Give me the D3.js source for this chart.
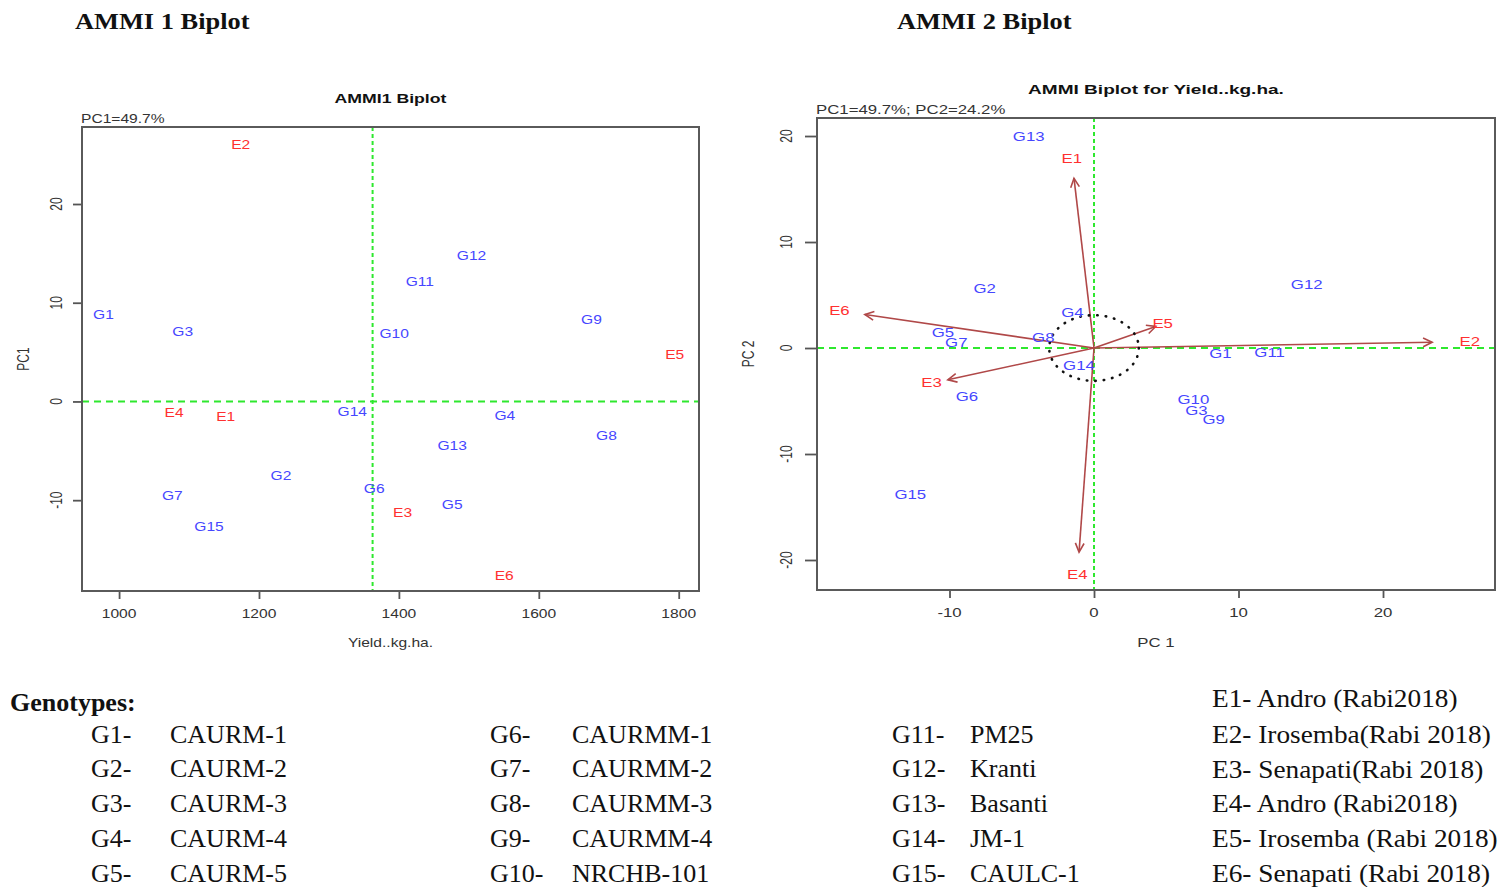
<!DOCTYPE html>
<html>
<head>
<meta charset="utf-8">
<script src="https://cdn.jsdelivr.net/npm/d3@7"></script>
<style>
body { margin: 0; background: #fff; }
svg { display: block; }
text { font-family: "Liberation Sans", Arial, sans-serif; }
.serif { font-family: "Liberation Serif", "Times New Roman", serif; }
</style>
</head>
<body>
<script>
// genotype scores
var genotypes = ["G1","G2","G3","G4","G5","G6","G7","G8","G9","G10","G11","G12","G13","G14","G15"];
var genoYield = [977.6, 1231.4, 1091.0, 1551.4, 1476.2, 1364.8, 1076.2, 1696.7, 1675.2, 1393.3, 1430.0, 1503.8, 1476.2, 1333.3, 1128.6];
var genoPC1 = [8.75, -7.57, 7.08, -1.49, -10.45, -8.80, -9.53, -3.51, 8.28, 6.88, 12.15, 14.72, -4.52, -1.04, -12.71];
var genoPC2 = [-0.57, 5.57, -5.94, 3.33, 1.45, -4.65, 0.50, 0.97, -6.79, -4.90, -0.44, 5.94, 19.88, -1.70, -13.87];

// environment scores
var environments = ["E1","E2","E3","E4","E5","E6"];
var envYield = [1152.4, 1173.8, 1405.2, 1078.6, 1794.3, 1550.5];
var envPC1 = [-1.54, 26.0, -11.24, -1.15, 4.75, -17.62];
var envPC2 = [17.8, 0.6, -3.33, -21.4, 2.26, 3.52];

var grandMean = 1362.4;
var circleRadius = 3.1;
var pcLabels = ["PC1=49.7%", "PC1=49.7%; PC2=24.2%"];

var yieldTicks = [1000, 1200, 1400, 1600, 1800];
var pc1Ticks = [-10, 0, 10, 20];
var pc2Ticks = [-20, -10, 0, 10, 20];

var genotypeNames = ["CAURM-1","CAURM-2","CAURM-3","CAURM-4","CAURM-5",
  "CAURMM-1","CAURMM-2","CAURMM-3","CAURMM-4","NRCHB-101",
  "PM25","Kranti","Basanti","JM-1","CAULC-1"];
var envNames = ["Andro (Rabi2018)","Irosemba(Rabi 2018)","Senapati(Rabi 2018)",
  "Andro (Rabi2018)","Irosemba (Rabi 2018)","Senapati (Rabi 2018)"];

var BLUE = "#4646ff", RED = "#ff3030", GREEN = "#2ee82e", ARROW = "#b04848";

var svg = d3.select("body").append("svg")
    .attr("width", 1505)
    .attr("height", 887);

// stretched text (the figure was scaled wider than tall)
function txt(g, x, y, s, o) {
  o = o || {};
  return g.append("text")
      .attr("transform", "translate(" + x + "," + y + ") scale(" + (o.sx || 1) + ",1)" + (o.rot ? " rotate(" + o.rot + ")" : ""))
      .attr("text-anchor", o.anchor || "middle")
      .attr("dominant-baseline", "central")
      .attr("class", o.cls || null)
      .style("font-size", (o.size || 12) + "px")
      .style("font-weight", o.bold ? "bold" : null)
      .attr("fill", o.fill || "#2a2a2a")
      .text(s);
}

function panel(cfg) {
  var g = svg.append("g");
  var x = d3.scaleLinear().domain(cfg.xLim).range([cfg.left, cfg.right]);
  var y = d3.scaleLinear().domain(cfg.yLim).range([cfg.bottom, cfg.top]);

  var xa = g.append("g")
      .attr("transform", "translate(0," + cfg.bottom + ")")
      .call(d3.axisBottom(x).tickValues(cfg.xTicks).tickSize(8));
  var ya = g.append("g")
      .attr("transform", "translate(" + cfg.left + ",0)")
      .call(d3.axisLeft(y).tickValues(cfg.yTicks).tickSize(cfg.yTick));

  // keep the tick marks, redraw the labels stretched
  [xa, ya].forEach(function(a) {
    a.select(".domain").remove();
    a.selectAll("text").remove();
    a.selectAll("line").attr("stroke", "#555").attr("stroke-width", 1.8);
  });
  cfg.xTicks.forEach(function(d) {
    txt(g, x(d), cfg.bottom + 22.5, String(d), {sx: cfg.sx, fill: "#333"});
  });
  cfg.yTicks.forEach(function(d) {
    txt(g, cfg.left - cfg.yLab, y(d), String(d), {sx: cfg.sx, rot: -90, fill: "#333"});
  });

  // reference lines
  g.append("line")
      .attr("x1", cfg.left).attr("x2", cfg.right)
      .attr("y1", y(0)).attr("y2", y(0))
      .attr("stroke", GREEN).attr("stroke-width", 2)
      .attr("stroke-dasharray", "7,5");
  g.append("line")
      .attr("x1", x(cfg.vLine)).attr("x2", x(cfg.vLine))
      .attr("y1", cfg.top).attr("y2", cfg.bottom)
      .attr("stroke", GREEN).attr("stroke-width", 2)
      .attr("stroke-dasharray", "4,3");

  g.append("rect")
      .attr("x", cfg.left).attr("y", cfg.top)
      .attr("width", cfg.right - cfg.left).attr("height", cfg.bottom - cfg.top)
      .attr("fill", "none").attr("stroke", "#5a5a5a").attr("stroke-width", 2);

  txt(g, (cfg.left + cfg.right) / 2, cfg.titleY, cfg.title, {sx: cfg.sx, size: 13.6, bold: true, fill: "#111"});
  txt(g, cfg.left - 1, cfg.subY, cfg.sub, {sx: cfg.sx, anchor: "start", fill: "#333"});
  txt(g, (cfg.left + cfg.right) / 2, 643, cfg.xTitle, {sx: cfg.sx, fill: "#333"});
  txt(g, cfg.yTitleX, (cfg.top + cfg.bottom) / 2, cfg.yTitle, {sx: cfg.sx, rot: -90, fill: "#333"});

  return {g: g, x: x, y: y};
}

// ---------- AMMI1 ----------
var p1 = panel({
  left: 82, right: 699, top: 127, bottom: 591,
  xLim: [947, 1829], yLim: [-19.2, 27.8],
  xTicks: yieldTicks, yTicks: pc1Ticks, yTick: 9, yLab: 26, sx: 1.3,
  vLine: grandMean, title: "AMMI1 Biplot", titleY: 98, sub: pcLabels[0], subY: 119,
  xTitle: "Yield..kg.ha.", yTitle: "PC1", yTitleX: 23
});

genotypes.forEach(function(d, i) {
  txt(p1.g, p1.x(genoYield[i]), p1.y(genoPC1[i]), d, {sx: 1.3, fill: BLUE});
});
environments.forEach(function(d, i) {
  txt(p1.g, p1.x(envYield[i]), p1.y(envPC1[i]), d, {sx: 1.3, fill: RED});
});

// ---------- AMMI2 ----------
var p2 = panel({
  left: 817, right: 1495, top: 118, bottom: 590,
  xLim: [-19.17, 27.75], yLim: [-22.83, 21.7],
  xTicks: pc1Ticks, yTicks: pc2Ticks, yTick: 12, yLab: 31, sx: 1.4,
  vLine: 0, title: "AMMI Biplot for Yield..kg.ha.", titleY: 89, sub: pcLabels[1], subY: 110,
  xTitle: "PC 1", yTitle: "PC 2", yTitleX: 748
});

// environment vectors drawn to 0.9 of the score, label at the score
var ox = p2.x(0), oy = p2.y(0);
environments.forEach(function(d, i) {
  var tx = p2.x(0.9 * envPC1[i]), ty = p2.y(0.9 * envPC2[i]);
  var ang = Math.atan2(ty - oy, tx - ox), L = 10, a = 0.45;
  var head = "M" + (tx - L * Math.cos(ang - a)) + "," + (ty - L * Math.sin(ang - a)) +
             "L" + tx + "," + ty +
             "L" + (tx - L * Math.cos(ang + a)) + "," + (ty - L * Math.sin(ang + a));
  p2.g.append("line")
      .attr("x1", ox).attr("y1", oy).attr("x2", tx).attr("y2", ty)
      .attr("stroke", ARROW).attr("stroke-width", 1.6);
  p2.g.append("path")
      .attr("d", head).attr("fill", "none")
      .attr("stroke", ARROW).attr("stroke-width", 1.6);
});

p2.g.append("ellipse")
    .attr("cx", ox).attr("cy", oy)
    .attr("rx", p2.x(circleRadius) - ox)
    .attr("ry", oy - p2.y(circleRadius))
    .attr("fill", "none").attr("stroke", "#111")
    .attr("stroke-width", 2.6)
    .attr("stroke-linecap", "round")
    .attr("stroke-dasharray", "0.5,8");

genotypes.forEach(function(d, i) {
  txt(p2.g, p2.x(genoPC1[i]), p2.y(genoPC2[i]), d, {sx: 1.4, fill: BLUE});
});
environments.forEach(function(d, i) {
  txt(p2.g, p2.x(envPC1[i]), p2.y(envPC2[i]), d, {sx: 1.4, fill: RED});
});

// ---------- headings ----------
txt(svg, 75, 21, "AMMI 1 Biplot", {anchor: "start", size: 24, sx: 1.1, bold: true, cls: "serif", fill: "#111"});
txt(svg, 897, 21, "AMMI 2 Biplot", {anchor: "start", size: 24, sx: 1.1, bold: true, cls: "serif", fill: "#111"});

// ---------- legend ----------
var rowY = d3.scaleLinear().domain([0, 1]).range([734, 768.8]);
var cols = [[91, 170], [490, 572], [892, 970]];
txt(svg, 10, 702, "Genotypes:", {anchor: "start", size: 26, bold: true, cls: "serif", fill: "#111"});
genotypes.forEach(function(d, i) {
  var c = cols[Math.floor(i / 5)], r = i % 5;
  txt(svg, c[0], rowY(r), d + "-", {anchor: "start", size: 26, cls: "serif", fill: "#111"});
  txt(svg, c[1], rowY(r), genotypeNames[i], {anchor: "start", size: 26, cls: "serif", fill: "#111"});
});
environments.forEach(function(d, i) {
  txt(svg, 1212, rowY(i - 1) - (i === 0 ? 1 : 0), d + "- " + envNames[i], {anchor: "start", size: 26, sx: 1.05, cls: "serif", fill: "#111"});
});
</script>
</body>
</html>
